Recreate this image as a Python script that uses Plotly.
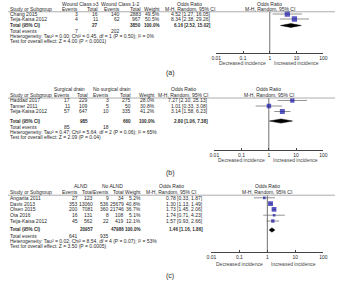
import plotly.graph_objects as go

# ---------------- data ----------------
a_groups = ["Wound Class ≥3", "Wound Class 1-2"]
a_studies = ["Chang 2015", "Teija-Kaisa 2012"]
a_events_1 = [3, 4]
a_total_1 = [16, 11]
a_events_2 = [140, 62]
a_total_2 = [2883, 967]
a_weight = [49.5, 50.5]
a_or = [4.52, 8.34]
a_lo = [1.27, 2.38]
a_hi = [16.05, 29.26]
a_sums = [7, 27, 202, 3850]
a_pooled = [6.16, 2.52, 15.02]
a_het = "Heterogeneity: Tau² = 0.00; Chi² = 0.45, df = 1 (P = 0.50); I² = 0%"
a_test = "Test for overall effect: Z = 4.00 (P < 0.0001)"

b_groups = ["Surgical drain", "No surgical drain"]
b_studies = ["Haddad 2017", "Tanner 2011", "Teija-Kaisa 2012"]
b_events_1 = [17, 11, 57]
b_total_1 = [229, 109, 647]
b_events_2 = [3, 5, 10]
b_total_2 = [275, 50, 335]
b_weight = [28.0, 30.8, 41.2]
b_or = [7.27, 1.01, 3.14]
b_lo = [2.10, 0.33, 1.58]
b_hi = [25.13, 3.08, 6.23]
b_sums = [85, 985, 18, 660]
b_pooled = [2.80, 1.06, 7.38]
b_het = "Heterogeneity: Tau² = 0.47; Chi² = 5.64, df = 2 (P = 0.06); I² = 65%"
b_test = "Test for overall effect: Z = 2.09 (P = 0.04)"

c_groups = ["ALND", "No ALND"]
c_studies = ["Angarita 2011", "Davis 2013", "Olsen 2015", "Ota 2016", "Teija-Kaisa 2012"]
c_events_1 = [27, 353, 200, 16, 45]
c_total_1 = [123, 13060, 7081, 131, 562]
c_events_2 = [9, 536, 360, 8, 22]
c_total_2 = [34, 25679, 21746, 108, 419]
c_weight = [5.2, 40.8, 36.7, 5.1, 12.1]
c_or = [0.78, 1.30, 1.73, 1.74, 1.57]
c_lo = [0.33, 1.13, 1.45, 0.71, 0.93]
c_hi = [1.87, 1.49, 2.06, 4.23, 2.66]
c_sums = [641, 20957, 935, 47986]
c_pooled = [1.46, 1.16, 1.86]
c_het = "Heterogeneity: Tau² = 0.02; Chi² = 8.54, df = 4 (P = 0.07); I² = 53%"
c_test = "Test for overall effect: Z = 3.50 (P = 0.0005)"

panel_labels = ["(a)", "(b)", "(c)"]
tick_vals = [0.01, 0.1, 1, 10, 100]
tick_text = ["0.01", "0.1", "1", "10", "100"]
favours = ["Decreased incidence", "Increased incidence"]

# ---------------- layout / style ----------------
W, H = 339, 281
FONT = "Liberation Sans, Arial, sans-serif"
FS = 5
FSB = 4.6
TXT = "#2a2a2a"
BLUE = "#1414a8"

def xp(px):
    return px / W

def yp(py):
    return 1 - py / H

panels = [
    dict(groups=a_groups, studies=a_studies, e1=a_events_1, t1=a_total_1, e2=a_events_2, t2=a_total_2,
         w=a_weight, orr=a_or, lo=a_lo, hi=a_hi, sums=a_sums, pooled=a_pooled, het=a_het, test=a_test,
         P0=9, s=5.0, r_total=3.3, r_ev=4.45, r_het=5.4, r_test=6.35, axis_px=53, fx0=217, fx1=327,
         cols=[76, 97, 119, 141, 160], grp=[78, 118], ci_c=190, ci_r=213, fav_px=63, lab_px=73),
    dict(groups=b_groups, studies=b_studies, e1=b_events_1, t1=b_total_1, e2=b_events_2, t2=b_total_2,
         w=b_weight, orr=b_or, lo=b_lo, hi=b_hi, sums=b_sums, pooled=b_pooled, het=b_het, test=b_test,
         P0=95, s=5.5, r_total=4.73, r_ev=5.82, r_het=6.73, r_test=7.64, axis_px=150, fx0=215, fx1=327,
         cols=[68, 86, 108, 130, 155], grp=[66, 110], ci_c=183, ci_r=210, fav_px=160, lab_px=173),
    dict(groups=c_groups, studies=c_studies, e1=c_events_1, t1=c_total_1, e2=c_events_2, t2=c_total_2,
         w=c_weight, orr=c_or, lo=c_lo, hi=c_hi, sums=c_sums, pooled=c_pooled, het=c_het, test=c_test,
         P0=192, s=5.8, r_total=6.55, r_ev=7.59, r_het=8.45, r_test=9.31, axis_px=252, fx0=212, fx1=327,
         cols=[76.5, 91.5, 108, 123, 140.5], grp=[78, 110], ci_c=171, ci_r=204, fav_px=264, lab_px=276),
]

fig = go.Figure()
annotations = []
shapes = []
layout_axes = {}

def ann(text, x, y, yref, xanchor="left", size=FS, bold=False, color=TXT):
    if bold:
        text = "<b>" + text + "</b>"
    annotations.append(dict(text=text, x=x, y=y, xref="paper", yref=yref, xanchor=xanchor,
                            yanchor="middle", showarrow=False,
                            font=dict(family=FONT, size=size, color=color), borderpad=0))

for k, p in enumerate(panels):
    sfx = "" if k == 0 else str(k + 1)
    xa, ya = "x" + sfx, "y" + sfx
    P0, s = p["P0"], p["s"]
    r_max = (p["axis_px"] - P0) / s
    r_min = max(-2.0, -(P0 - 0.5) / s)
    top_px = P0 + r_min * s
    layout_axes["yaxis" + sfx] = dict(range=[r_max, r_min], domain=[yp(p["axis_px"]), yp(top_px)],
                                      visible=False, fixedrange=True)
    layout_axes["xaxis" + sfx] = dict(type="log", range=[-2, 2], domain=[xp(p["fx0"]), xp(p["fx1"])],
                                      anchor=ya, showgrid=False, zeroline=False, showline=True,
                                      linecolor="#444", linewidth=0.7, ticks="inside", ticklen=2,
                                      tickwidth=0.7, tickcolor="#444", tickvals=tick_vals,
                                      ticktext=tick_text,
                                      tickfont=dict(family=FONT, size=FS, color=TXT))
    n = len(p["studies"])
    rows = list(range(1, n + 1))

    # header
    ann(p["groups"][0], xp(p["grp"][0]), -1, ya, "center")
    ann(p["groups"][1], xp(p["grp"][1]), -1, ya, "center")
    ann("Odds Ratio", xp(p["ci_c"]), -1, ya, "center")
    one_px = (p["fx0"] + p["fx1"]) / 2
    ann("Odds Ratio", xp(one_px), -1, ya, "center")
    ann("Study or Subgroup", xp(4), 0, ya, "left")
    for txt, cx in zip(["Events", "Total", "Events", "Total", "Weight"], p["cols"]):
        ann(txt, xp(cx), 0, ya, "right")
    ann("M-H, Random, 95% CI", xp(p["ci_c"]), 0, ya, "center")
    ann("M-H, Random, 95% CI", xp(one_px), 0, ya, "center")
    shapes.append(dict(type="line", xref="paper", yref=ya, x0=xp(3), x1=1, y0=0.55, y1=0.55,
                       line=dict(color="#8a8a8a", width=0.7)))

    # study rows
    for i, r in enumerate(rows):
        ann(p["studies"][i], xp(4), r, ya, "left")
        vals = [p["e1"][i], p["t1"][i], p["e2"][i], p["t2"][i]]
        for v, cx in zip(vals, p["cols"][:4]):
            ann(str(v), xp(cx), r, ya, "right")
        ann(f"{p['w'][i]:.1f}%", xp(p["cols"][4]), r, ya, "right")
        ann(f"{p['orr'][i]:.2f} [{p['lo'][i]:.2f}, {p['hi'][i]:.2f}]", xp(p["ci_r"]), r, ya, "right")

    # totals
    rt = p["r_total"]
    ann("Total (95% CI)", xp(4), rt, ya, "left", size=FSB, bold=True)
    ann(str(p["sums"][1]), xp(p["cols"][1]), rt, ya, "right", size=FSB, bold=True)
    ann(str(p["sums"][3]), xp(p["cols"][3]), rt, ya, "right", size=FSB, bold=True)
    ann("100.0%", xp(p["cols"][4]), rt, ya, "right", size=FSB, bold=True)
    pe, pl, ph = p["pooled"]
    ann(f"{pe:.2f} [{pl:.2f}, {ph:.2f}]", xp(p["ci_r"]), rt, ya, "right", size=FSB, bold=True)
    ann("Total events", xp(4), p["r_ev"], ya, "left")
    ann(str(p["sums"][0]), xp(p["cols"][0]), p["r_ev"], ya, "right")
    ann(str(p["sums"][2]), xp(p["cols"][2]), p["r_ev"], ya, "right")
    ann(p["het"], xp(4), p["r_het"], ya, "left")
    ann(p["test"], xp(4), p["r_test"], ya, "left")

    # favours labels & panel label (paper coordinates, below the plot area)
    ann(favours[0], xp(one_px - 3), yp(p["fav_px"]), "paper", "right", color="#444")
    ann(favours[1], xp(one_px + 3), yp(p["fav_px"]), "paper", "left", color="#444")
    ann(panel_labels[k], xp(170), yp(p["lab_px"]), "paper", "center", size=7)

    # line of no effect
    fig.add_trace(go.Scatter(x=[1, 1], y=[0.55, r_max], xaxis=xa, yaxis=ya, mode="lines",
                             line=dict(color="#333", width=0.7), hoverinfo="skip", showlegend=False))
    # CI lines
    for i, r in enumerate(rows):
        fig.add_trace(go.Scatter(x=[p["lo"][i], p["hi"][i]], y=[r, r], xaxis=xa, yaxis=ya,
                                 mode="lines", line=dict(color="#666", width=0.7),
                                 hoverinfo="skip", showlegend=False))
    # squares
    fig.add_trace(go.Scatter(x=p["orr"], y=rows, xaxis=xa, yaxis=ya, mode="markers",
                             marker=dict(symbol="square", color=BLUE,
                                         size=[1.4 + (w ** 0.5) * 0.55 for w in p["w"]],
                                         line=dict(width=0)),
                             hoverinfo="skip", showlegend=False))
    # diamond
    dh = 0.38
    fig.add_trace(go.Scatter(x=[pl, pe, ph, pe, pl], y=[rt, rt - dh, rt, rt + dh, rt],
                             xaxis=xa, yaxis=ya, mode="lines", fill="toself",
                             fillcolor="#000", line=dict(color="#000", width=0.5),
                             hoverinfo="skip", showlegend=False))

fig.update_layout(width=W, height=H, margin=dict(l=0, r=0, t=0, b=0),
                  paper_bgcolor="white", plot_bgcolor="rgba(0,0,0,0)",
                  annotations=annotations, shapes=shapes, showlegend=False,
                  font=dict(family=FONT, size=FS, color=TXT), **layout_axes)

fig.write_html("out.html")
